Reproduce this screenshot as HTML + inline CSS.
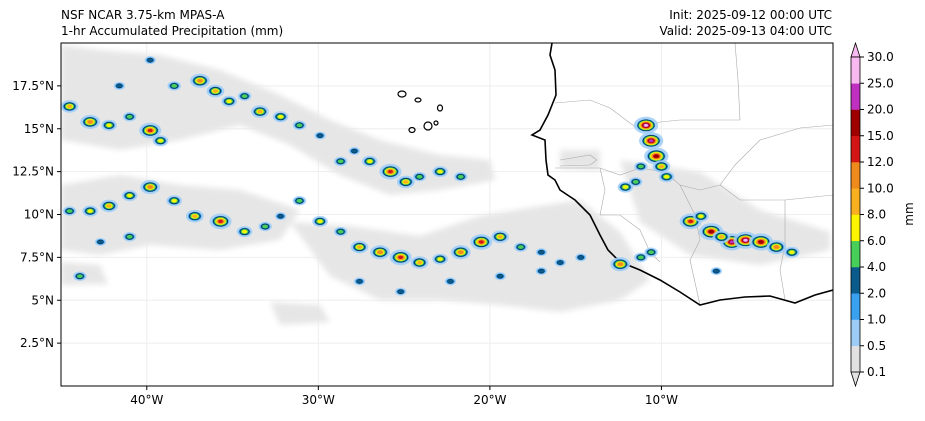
<!DOCTYPE html>
<html><head><meta charset="utf-8"><style>
body{margin:0;background:#fff;font-family:"Liberation Sans","DejaVu Sans",sans-serif;}
svg text{font-family:"DejaVu Sans","Liberation Sans",sans-serif;font-size:12px;fill:#000;}
</style></head><body>
<svg id="c" width="925" height="416" viewBox="0 0 925 416">
<text x="61" y="19">NSF NCAR 3.75-km MPAS-A</text>
<text x="61" y="35">1-hr Accumulated Precipitation (mm)</text>
<text x="832" y="19" text-anchor="end">Init: 2025-09-12 00:00 UTC</text>
<text x="832" y="35" text-anchor="end">Valid: 2025-09-13 04:00 UTC</text>
<defs><clipPath id="clip"><rect x="61" y="43" width="772" height="343"/></clipPath>
<filter id="bl"><feGaussianBlur stdDeviation="3"/></filter></defs>
<g id="grid"></g>
<g clip-path="url(#clip)">
<g fill="#e6e6e6" filter="url(#bl)">
<polygon points="61,45 100,50 160,55 220,70 280,95 330,120 380,140 440,155 490,160 495,180 440,190 390,195 340,175 290,145 240,125 180,140 120,150 61,140"/>
<polygon points="61,185 120,175 180,185 240,190 300,210 280,240 220,250 150,245 100,255 61,250"/>
<polygon points="61,262 100,265 108,284 61,285"/>
<polygon points="290,222 350,226 420,236 480,216 540,206 580,200 620,232 650,280 620,300 560,312 500,305 440,300 380,300 330,276"/>
<polygon points="620,160 700,172 760,210 830,232 830,250 760,265 690,255 640,222"/>
<polygon points="270,302 320,305 330,322 280,325"/>
<polygon points="560,150 600,150 600,170 560,168"/>
</g>
<g id="borders" fill="none" stroke="#aaa" stroke-width="0.6">
<polyline points="555,103 590,100 610,108 630,123 640,130 660,122 680,120 740,120 738,80 735,43"/>
<polyline points="560,160 590,155 597,160 590,165 560,166"/>
<polyline points="555,168 600,168 620,175 640,168 665,172 680,185 700,190 720,185 735,165 760,140 800,128 833,125"/>
<polyline points="600,168 605,190 600,215 620,215 640,230 650,252 660,262"/>
<polyline points="680,185 695,215 700,240 690,260 700,305"/>
<polyline points="785,200 833,195"/>
<polyline points="785,200 785,245 780,270 785,300"/>
<polyline points="720,185 740,200 785,200"/>
</g>
<polyline fill="none" stroke="#000" stroke-width="1.6" points="552,43 550,55 555,70 556,95 548,115 540,130 532,135 545,140 546,160 548,175 555,180 560,190 575,200 590,215 600,235 608,250 620,262 640,270 660,280 680,292 700,305 720,300 745,297 770,296 795,303 815,295 833,290"/>
<g fill="none" stroke="#000" stroke-width="1.2">
<ellipse cx="402" cy="94" rx="4" ry="3"/><ellipse cx="418" cy="100" rx="3" ry="2"/><ellipse cx="440" cy="108" rx="2.5" ry="3"/>
<ellipse cx="428" cy="126" rx="4" ry="4"/><ellipse cx="412" cy="130" rx="3" ry="2.5"/><ellipse cx="436" cy="123" rx="2" ry="2"/>
</g>
<g id="cells"></g>
</g>
<rect x="61" y="43" width="772" height="343" fill="none" stroke="#000" stroke-width="1"/>
<g id="axes"></g>
<g id="cbar"></g>
<text transform="translate(913,214) rotate(-90)" text-anchor="middle" font-size="11">mm</text>
</svg>
<script>
const cellLons=[-44.5,-43.3,-42.2,-41.0,-39.8,-39.2,-38.4,-36.9,-36.0,-35.2,-34.3,-33.4,-32.2,-31.1,-29.9,-28.7,-27.0,-25.8,-24.9,-24.1,-22.9,-21.7,-39.8,-41.6,-27.9,
-44.5,-43.3,-42.2,-41.0,-39.8,-38.4,-37.2,-35.7,-34.3,-33.1,-32.2,-42.7,-43.9,-41.0,
-31.1,-29.9,-28.7,-27.6,-26.4,-25.2,-24.1,-22.9,-21.7,-20.5,-19.4,-18.2,-17.0,-15.9,-27.6,-25.2,-22.3,-19.4,-17.0,-14.7,
-12.4,-11.2,-10.6,-10.9,-10.6,-10.3,-10.0,-9.7,-12.1,-11.5,-11.2,
-8.3,-7.1,-5.9,-5.1,-4.2,-3.3,-7.7,-6.5,-2.4,-6.8];
const cellLats=[16.3,15.4,15.2,15.7,14.9,14.3,17.5,17.8,17.2,16.6,16.9,16.0,15.7,15.2,14.6,13.1,13.1,12.5,11.9,12.2,12.5,12.2,19.0,17.5,13.7,
10.2,10.2,10.5,11.1,11.6,10.8,9.9,9.6,9.0,9.3,9.9,8.4,6.4,8.7,
10.8,9.6,9.0,8.1,7.8,7.5,7.2,7.4,7.8,8.4,8.7,8.1,7.8,7.2,6.1,5.5,6.1,6.4,6.7,7.5,
7.1,7.5,7.8,15.2,14.3,13.4,12.8,12.2,11.6,11.9,12.8,
9.6,9.0,8.4,8.5,8.4,8.1,9.9,8.7,7.8,6.7];
const cellVals=[8,10,6,4,12,6,4,10,8,6,4,8,6,4,3,4,6,12,8,4,6,4,3,3,3,
4,6,8,6,10,6,8,12,6,4,3,3,4,4,
4,6,4,8,10,12,8,6,10,12,8,4,3,3,3,2,3,2,3,3,
10,4,4,25,20,15,8,6,6,4,4,
12,15,20,25,15,10,6,8,6,2];
const levels=[0.1,0.5,1,2,4,6,8,10,12,15,20,25,30];
const colors=["#e1e1e1","#9dcdf7","#3aa0f0","#0a5a8c","#47cf5a","#fbf600","#f8b020","#ef8a1c","#d41515","#9e0000","#c030c0","#f8b8f0"];
const lonTicks=[-40,-30,-20,-10], latTicks=[2.5,5,7.5,10,12.5,15,17.5];
const X=lon=>61+(lon+45)*772/45, Y=lat=>386-lat*343/20;
const ns="http://www.w3.org/2000/svg";
function mk(t,a,p){const e=document.createElementNS(ns,t);for(const k in a)e.setAttribute(k,a[k]);p.appendChild(e);return e;}
function colIdx(v){let i=0;while(i<levels.length-2&&v>=levels[i+1])i++;return i;}
const grid=document.getElementById('grid');
lonTicks.forEach(l=>{const e=mk('line',{x1:X(l),x2:X(l),y1:43,y2:386,stroke:'#eee','stroke-width':1},grid);

});
latTicks.forEach(l=>{const e=mk('line',{x1:61,x2:833,y1:Y(l),y2:Y(l),stroke:'#eee','stroke-width':1},grid);

});
const axes=document.getElementById('axes');
lonTicks.forEach(l=>{mk('line',{x1:X(l),x2:X(l),y1:386,y2:390,stroke:'#000'},axes);
const t=mk('text',{x:X(l),y:404,'text-anchor':'middle'},axes);t.textContent=Math.abs(l)+'°W';

});
latTicks.forEach(l=>{mk('line',{x1:57,x2:61,y1:Y(l),y2:Y(l),stroke:'#000'},axes);
const t=mk('text',{x:54,y:Y(l)+4,'text-anchor':'end'},axes);t.textContent=l+'°N';

});
const cells=document.getElementById('cells');
cellLons.forEach((lon,i)=>{const v=cellVals[i],cx=X(lon),cy=Y(cellLats[i]);const ci=colIdx(v);
const r=1+Math.min(ci,9)*0.45;
const g=mk('g',{},cells);


mk('ellipse',{cx:cx,cy:cy,rx:r*2.4,ry:r*1.7,fill:colors[1],opacity:0.85},g);
for(let k=2;k<=ci;k++){const f=1-(k-2)/(ci+0.5);mk('ellipse',{cx:cx,cy:cy,rx:Math.max(0.8,r*1.8*f),ry:Math.max(0.6,r*1.2*f),fill:colors[k],stroke:k==3?'#000':'none','stroke-width':0.4},g);}
if(ci<2)mk('circle',{cx:cx,cy:cy,r:1,fill:colors[2]},g);
});
const cb=document.getElementById('cbar');const cbx=851,cbw=9,cbTop=57,cbBot=372,step=(cbBot-cbTop)/12;
mk('polygon',{points:`${cbx},${cbBot} ${cbx+cbw},${cbBot} ${cbx+cbw/2},${cbBot+14}`,fill:colors[0],stroke:'#000','stroke-width':0.8},cb);
mk('polygon',{points:`${cbx},${cbTop} ${cbx+cbw},${cbTop} ${cbx+cbw/2},${cbTop-14}`,fill:colors[11],stroke:'#000','stroke-width':0.8},cb);
colors.forEach((c,i)=>{const r=mk('rect',{x:cbx,y:cbBot-(i+1)*step,width:cbw,height:step+0.3,fill:c},cb);

});
mk('rect',{x:cbx,y:cbTop,width:cbw,height:cbBot-cbTop,fill:'none',stroke:'#000','stroke-width':0.8},cb);
levels.forEach((l,i)=>{const y=cbBot-i*step;mk('line',{x1:cbx+cbw,x2:cbx+cbw+4,y1:y,y2:y,stroke:'#000'},cb);
const t=mk('text',{x:cbx+cbw+7,y:y+4,'font-size':11},cb);t.textContent=l.toFixed(1);

});
</script>
</body></html>
